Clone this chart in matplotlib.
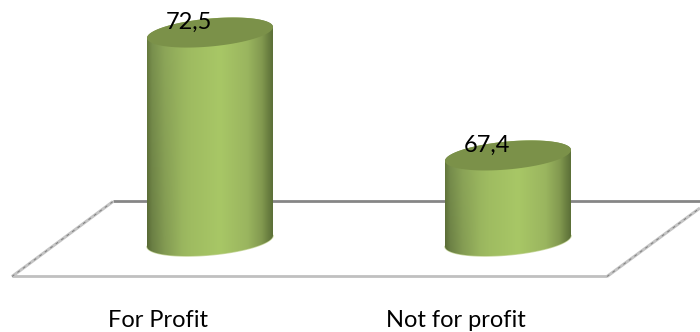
import numpy as np
import matplotlib
matplotlib.use("Agg")
import matplotlib.pyplot as plt
from matplotlib.colors import LinearSegmentedColormap
from matplotlib.path import Path
from matplotlib.patches import PathPatch

categories = ["For Profit", "Not for profit"]
values = [72.5, 67.4]
value_labels = ["72,5", "67,4"]

# Layout in figure pixels
W, H = 700, 332
BASE_VALUE = 63.85
BASE_PY = 241.0
PX_PER_UNIT = 24.1
FIRST_PX = 210.0
STEP_PX = 298.0
RADIUS_PX = 63.0
RIM_PX = 14.0
TILT = -0.087
FONT = "Lato"

fig = plt.figure(figsize=(W / 100, H / 100), dpi=100, facecolor="white")
ax = fig.add_axes([0, 0, 1, 1])
ax.set_yticks([])
for spine in ax.spines.values():
    spine.set_visible(False)

def to_data(px, py):
    return (np.asarray(px, float) - FIRST_PX) / STEP_PX, BASE_VALUE + (BASE_PY - np.asarray(py, float)) / PX_PER_UNIT

# Perspective floor
def floor_line(xs, ys, **kw):
    dx, dy = to_data(xs, ys)
    ax.plot(dx, dy, zorder=1, solid_capstyle="butt", **kw)

floor_line([113, 700], [201.5, 201.5], color="#868686", lw=2.0)
floor_line([12, 607], [276.5, 276.5], color="#c0c0c0", lw=2.0)
for xs, ys in (([12, 113], [276.5, 201.5]), ([607, 700], [276.5, 208])):
    floor_line(xs, ys, color="#c4c4c4", lw=2.2)
    floor_line(xs, ys, color="#7f7f7f", lw=0.7, linestyle=(0, (3, 4)))

shade = LinearSegmentedColormap.from_list("cyl", [
    (0.00, "#6a7f40"), (0.04, "#7d9550"), (0.14, "#8fa95a"), (0.35, "#9fbc61"),
    (0.58, "#a8c766"), (0.80, "#9ab55f"), (0.91, "#839a50"), (0.97, "#687d3f"),
    (1.00, "#5c6f38"),
])

def rim(i, value, start, stop, n=80):
    """Points along the slanted elliptical end of a cylinder, in data coordinates."""
    t = np.linspace(start, stop, n)
    dx = RADIUS_PX * np.cos(t)
    y = value + (-(RIM_PX * np.sin(t)) - TILT * dx) / PX_PER_UNIT
    return i + dx / STEP_PX, y

def body_image(rows=200, cols=256):
    """Horizontal sheen, with the left flank deepening towards the floor."""
    u = np.linspace(0, 1, cols)
    rgb = shade(u)[:, :3]
    img = np.repeat(rgb[None, :, :], rows, axis=0)
    depth = np.linspace(0, 1, rows)[:, None] * np.clip(1 - u / 0.28, 0, 1)[None, :] * 0.2
    return img * (1 - depth[:, :, None])

r = RADIUS_PX / STEP_PX

for i, v in enumerate(values):
    # Body: lower rim from left to right, then back along the upper rim
    bx, by = rim(i, BASE_VALUE, np.pi, 0)
    tx, ty = rim(i, v, 2 * np.pi, np.pi)
    verts = np.column_stack([np.r_[bx, tx], np.r_[by, ty]])
    body = PathPatch(Path(np.vstack([verts, verts[0]]), closed=True), fc="none", ec="none", transform=ax.transData)
    ax.add_patch(body)
    # Pale fringe under the lower rim
    ax.plot(bx, by, color="#c9d89f", lw=1.0, zorder=1.9)
    im = ax.imshow(body_image(), extent=(i - r, i + r, BASE_VALUE - 2, v + 2), aspect="auto", zorder=2)
    im.set_clip_path(body)
    # Top face
    cx, cy = rim(i, v, 0, 2 * np.pi)
    ax.fill(cx, cy, color="#7b9149", lw=0, zorder=3)
    # Value label
    lx, _ = to_data(FIRST_PX + STEP_PX * i - 21, 0)
    ax.annotate(value_labels[i], xy=(lx, v), xytext=(0, 7.5), textcoords="offset points",
                ha="center", va="center", fontsize=17, family=FONT, color="black", zorder=5)

ax.set_xticks([i - 52 / STEP_PX for i in range(len(categories))])
ax.set_xticklabels(categories, fontsize=17, family=FONT, color="black")
ax.tick_params(axis="x", length=0, direction="in", pad=-15.5)

ax.set_xlim(-FIRST_PX / STEP_PX, (W - FIRST_PX) / STEP_PX)
ax.set_ylim(BASE_VALUE - (H - BASE_PY) / PX_PER_UNIT, BASE_VALUE + BASE_PY / PX_PER_UNIT)
fig.savefig("out.png", dpi=100, facecolor="white")
